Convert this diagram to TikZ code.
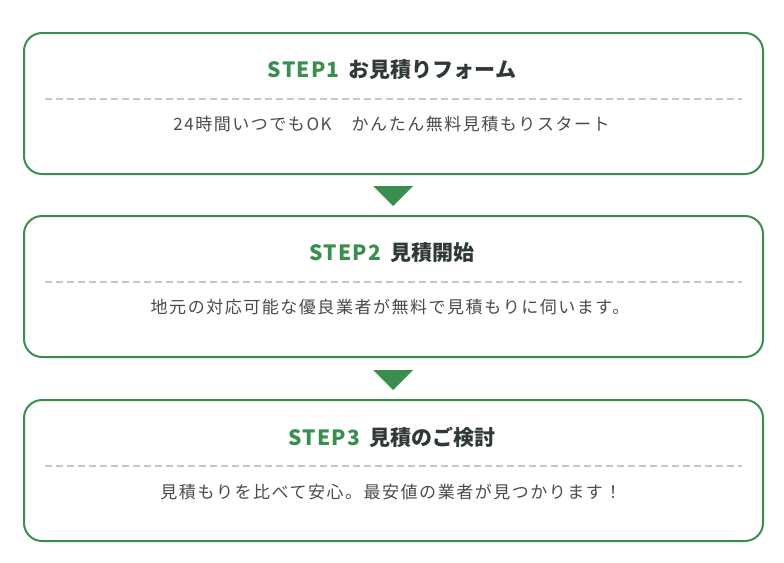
\documentclass[tikz,border=0pt]{standalone}
\usepackage{fontspec}
\setmainfont{Noto Sans CJK JP}
\newfontfamily\stepfont[LetterSpace=6]{Noto Sans CJK JP}
\newfontfamily\bodyfont[LetterSpace=9]{Noto Sans CJK JP}
\usepackage{xcolor}
\usetikzlibrary{positioning}
\definecolor{stepgreen}{HTML}{3A8F4E}
\definecolor{titletext}{HTML}{2F3A36}
\definecolor{bodytext}{HTML}{4A4A4A}
\definecolor{dashgray}{HTML}{C8C8C8}

\begin{document}
\begin{tikzpicture}[x=1pt, y=-1pt,
  stepbox/.style={draw=stepgreen, line width=2pt, rounded corners=18pt,
    minimum width=739pt, minimum height=141pt, inner sep=0pt},
  steptitle/.style={font=\fontsize{21}{24}\selectfont\bfseries, text=titletext},
  stepbody/.style={font=\bodyfont\fontsize{17}{20}\selectfont, text=bodytext},
  sepline/.style={draw=dashgray, line width=1.5pt, dash pattern=on 7pt off 4pt},
  steparrow/.style={fill=stepgreen}]
  \useasboundingbox (0,0) rectangle (784,562);

  % Caixas das etapas
  \node[stepbox] (box1) at (393.5,103.5) {};
  \node[stepbox] (box2) at (393.5,286.5) {};
  \node[stepbox] (box3) at (393.5,470.5) {};

  % Titulos
  \node[steptitle] (title1) at (392,70) {\textcolor{stepgreen}{\stepfont\bfseries STEP1}\hspace{9pt}お見積りフォーム};
  \node[steptitle] (title2) at (392,253) {\textcolor{stepgreen}{\stepfont\bfseries STEP2}\hspace{9pt}見積開始};
  \node[steptitle] (title3) at (392,437) {\textcolor{stepgreen}{\stepfont\bfseries STEP3}\hspace{9pt}見積のご検討};

  % Linhas tracejadas
  \draw[sepline] (45,99) -- (742,99);
  \draw[sepline] (45,282) -- (742,282);
  \draw[sepline] (45,466) -- (742,466);

  % Textos
  \node[stepbody] (body1) at (391.5,124) {24時間いつでもOK　かんたん無料見積もりスタート};
  \node[stepbody] (body2) at (390,307) {地元の対応可能な優良業者が無料で見積もりに伺います。};
  \node[stepbody] (body3) at (391,492) {見積もりを比べて安心。最安値の業者が見つかります！};

  % Setas entre as etapas
  \fill[steparrow] (373,186) -- (413,186) -- (393,206) -- cycle;
  \fill[steparrow] (373,370) -- (413,370) -- (393,390) -- cycle;
\end{tikzpicture}
\end{document}
